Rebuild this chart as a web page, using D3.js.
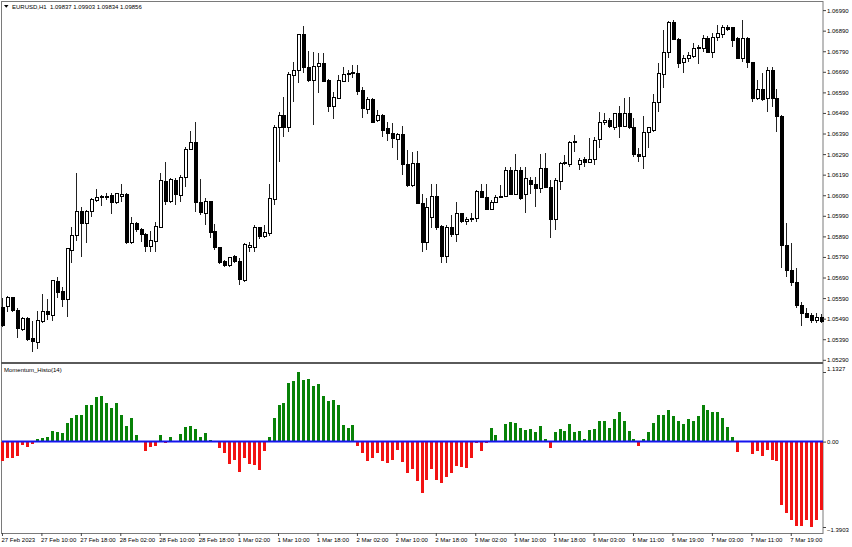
<!DOCTYPE html>
<html>
<head>
<meta charset="utf-8">
<script src="https://cdn.jsdelivr.net/npm/d3@7"></script>
<style>
  body { margin: 0; background: #fff; }
  svg { display: block; }
  text { font-family: "Liberation Sans", Arial, sans-serif; font-size: 6px; fill: #000; }
</style>
</head>
<body>
<svg id="chart" width="852" height="547"></svg>
<script>
// EURUSD H1 candles
var opens = [1.05543,1.05548,1.05591,1.05528,1.05436,1.05489,1.05392,1.05373,1.05475,1.05523,1.05504,1.05669,1.05620,1.05582,1.05820,1.05893,1.06009,1.05951,1.06009,1.06063,
  1.06077,1.06082,1.06087,1.06053,1.06082,1.06092,1.05859,1.05951,1.05922,1.05898,1.05839,1.05864,1.05932,1.06155,1.06058,1.06160,1.06087,1.06175,1.06311,1.06345,
  1.06053,1.06000,1.06058,1.05912,1.05834,1.05766,1.05747,1.05791,1.05766,1.05674,1.05834,1.05834,1.05932,1.05888,1.05902,1.06068,1.06417,1.06480,1.06417,1.06674,
  1.06694,1.06869,1.06713,1.06650,1.06718,1.06732,1.06650,1.06519,1.06562,1.06645,1.06679,1.06684,1.06684,1.06601,1.06509,1.06557,1.06455,1.06480,1.06412,1.06392,
  1.06363,1.06383,1.06237,1.06135,1.06246,1.06052,1.05858,1.05984,1.06086,1.05940,1.05790,1.05931,1.05897,1.05999,1.05960,1.05974,1.05979,1.06106,1.06081,1.06023,
  1.06057,1.06081,1.06086,1.06208,1.06096,1.06208,1.06096,1.06164,1.06144,1.06125,1.06222,1.06130,1.05974,1.06159,1.06242,1.06237,1.06348,1.06237,1.06266,1.06251,
  1.06266,1.06363,1.06446,1.06455,1.06421,1.06485,1.06426,1.06485,1.06417,1.06290,1.06276,1.06397,1.06407,1.06543,1.06679,1.06786,1.06932,1.06849,1.06737,1.06757,
  1.06766,1.06805,1.06805,1.06854,1.06786,1.06859,1.06873,1.06903,1.06903,1.06854,1.06757,1.06854,1.06737,1.06562,1.06606,1.06562,1.06694,1.06562,1.06475,1.05848,
  1.05726,1.05668,1.05556,1.05513,1.05503,1.05483,1.05498];
var highs = [1.05591,1.05601,1.05596,1.05543,1.05499,1.05499,1.05480,1.05528,1.05611,1.05586,1.05679,1.05693,1.05645,1.05834,1.05936,1.06199,1.06034,1.06019,1.06077,1.06121,
  1.06092,1.06102,1.06102,1.06102,1.06145,1.06102,1.05985,1.05961,1.05932,1.05907,1.05917,1.05961,1.06199,1.06252,1.06175,1.06175,1.06189,1.06325,1.06403,1.06447,
  1.06170,1.06077,1.06063,1.05951,1.05839,1.05776,1.05791,1.05800,1.05786,1.05859,1.05864,1.05946,1.05936,1.05946,1.06145,1.06432,1.06494,1.06567,1.06689,1.06737,
  1.06873,1.06912,1.06791,1.06786,1.06781,1.06781,1.06655,1.06592,1.06674,1.06713,1.06698,1.06723,1.06723,1.06616,1.06567,1.06562,1.06504,1.06485,1.06446,1.06441,
  1.06392,1.06426,1.06310,1.06300,1.06305,1.06096,1.06076,1.06144,1.06144,1.05945,1.05945,1.05994,1.06057,1.06003,1.05984,1.06003,1.06115,1.06144,1.06144,1.06067,
  1.06091,1.06140,1.06227,1.06227,1.06290,1.06227,1.06227,1.06178,1.06178,1.06290,1.06295,1.06164,1.06173,1.06251,1.06285,1.06353,1.06383,1.06271,1.06276,1.06368,
  1.06373,1.06494,1.06489,1.06465,1.06489,1.06523,1.06562,1.06567,1.06465,1.06319,1.06475,1.06421,1.06582,1.06732,1.06893,1.06937,1.06941,1.06854,1.06771,1.06786,
  1.06830,1.06820,1.06869,1.06864,1.06878,1.06917,1.06917,1.06917,1.06905,1.06859,1.06941,1.06859,1.06739,1.06650,1.06684,1.06713,1.06713,1.06606,1.06480,1.05955,
  1.05858,1.05736,1.05571,1.05542,1.05517,1.05517,1.05513];
var lows = [1.05450,1.05523,1.05523,1.05397,1.05431,1.05382,1.05329,1.05343,1.05470,1.05484,1.05480,1.05591,1.05548,1.05499,1.05761,1.05868,1.05791,1.05859,1.05985,1.06058,
  1.06038,1.06068,1.06000,1.06048,1.06058,1.05854,1.05854,1.05912,1.05864,1.05815,1.05815,1.05815,1.05930,1.06043,1.06053,1.06043,1.06058,1.06131,1.06308,1.06009,
  1.05995,1.05946,1.05883,1.05825,1.05757,1.05742,1.05742,1.05761,1.05655,1.05669,1.05815,1.05815,1.05878,1.05883,1.05893,1.06043,1.06251,1.06373,1.06397,1.06543,
  1.06635,1.06684,1.06640,1.06431,1.06587,1.06640,1.06494,1.06460,1.06560,1.06640,1.06640,1.06660,1.06577,1.06465,1.06485,1.06441,1.06446,1.06373,1.06353,1.06319,
  1.06261,1.06188,1.06130,1.06130,1.06050,1.05814,1.05824,1.05931,1.05921,1.05760,1.05760,1.05887,1.05863,1.05955,1.05945,1.05958,1.05958,1.06076,1.06018,1.06018,
  1.06052,1.06079,1.06079,1.06091,1.06091,1.06067,1.06003,1.06096,1.06033,1.06101,1.06125,1.05882,1.05921,1.06115,1.06237,1.06227,1.06300,1.06212,1.06227,1.06246,
  1.06237,1.06319,1.06431,1.06417,1.06407,1.06368,1.06421,1.06412,1.06276,1.06251,1.06217,1.06319,1.06397,1.06494,1.06611,1.06757,1.06844,1.06708,1.06684,1.06737,
  1.06757,1.06728,1.06786,1.06781,1.06757,1.06839,1.06854,1.06888,1.06810,1.06755,1.06737,1.06708,1.06543,1.06553,1.06548,1.06494,1.06519,1.06397,1.05736,1.05692,
  1.05649,1.05542,1.05454,1.05493,1.05469,1.05469,1.05469];
var closes = [1.05455,1.05591,1.05528,1.05441,1.05489,1.05387,1.05377,1.05480,1.05523,1.05509,1.05674,1.05616,1.05582,1.05829,1.05893,1.06009,1.05951,1.06009,1.06068,1.06077,
  1.06082,1.06083,1.06053,1.06097,1.06092,1.05859,1.05951,1.05922,1.05898,1.05839,1.05868,1.05936,1.06160,1.06058,1.06165,1.06092,1.06175,1.06311,1.06345,1.06053,
  1.06004,1.06058,1.05907,1.05834,1.05761,1.05747,1.05786,1.05766,1.05679,1.05849,1.05844,1.05932,1.05888,1.05907,1.06072,1.06418,1.06480,1.06421,1.06679,1.06694,
  1.06869,1.06713,1.06650,1.06718,1.06732,1.06645,1.06519,1.06567,1.06650,1.06679,1.06684,1.06685,1.06596,1.06514,1.06557,1.06446,1.06480,1.06407,1.06392,1.06368,
  1.06383,1.06237,1.06135,1.06246,1.06052,1.05858,1.06028,1.06086,1.05935,1.05790,1.05935,1.05897,1.05999,1.05960,1.05974,1.05979,1.06106,1.06081,1.06023,1.06057,
  1.06081,1.06086,1.06212,1.06096,1.06212,1.06072,1.06169,1.06144,1.06125,1.06222,1.06130,1.05974,1.06164,1.06246,1.06251,1.06348,1.06349,1.06261,1.06251,1.06266,
  1.06358,1.06446,1.06451,1.06426,1.06485,1.06426,1.06485,1.06417,1.06290,1.06276,1.06397,1.06417,1.06543,1.06684,1.06786,1.06932,1.06849,1.06732,1.06757,1.06771,
  1.06805,1.06810,1.06854,1.06786,1.06859,1.06878,1.06907,1.06898,1.06844,1.06757,1.06854,1.06737,1.06562,1.06606,1.06557,1.06694,1.06562,1.06475,1.05848,1.05722,
  1.05668,1.05556,1.05513,1.05498,1.05479,1.05498,1.05474];

// Momentum_Histo(14) values
var momentum = [-0.31,-0.27,-0.27,-0.23,-0.05,-0.08,-0.04,0.04,0.06,0.07,0.18,0.16,0.14,0.31,0.38,0.44,0.44,0.60,0.60,0.72,
  0.74,0.63,0.55,0.62,0.44,0.25,0.39,0.10,-0.01,-0.16,-0.08,-0.07,0.10,-0.02,0.08,0.01,0.13,0.23,0.26,0.21,
  0.07,0.14,0.02,-0.01,-0.10,-0.19,-0.37,-0.30,-0.50,-0.26,-0.36,-0.38,-0.46,-0.15,0.08,0.39,0.60,0.62,0.95,0.98,
  1.1327,1.00,1.02,0.91,0.93,0.74,0.66,0.68,0.60,0.27,0.22,0.27,-0.07,-0.19,-0.31,-0.26,-0.19,-0.31,-0.35,-0.30,
  -0.13,-0.34,-0.51,-0.44,-0.64,-0.83,-0.63,-0.44,-0.63,-0.68,-0.57,-0.51,-0.39,-0.41,-0.43,-0.26,-0.03,-0.16,-0.03,0.22,
  0.11,0.01,0.29,0.32,0.31,0.22,0.19,0.20,0.16,0.26,0.04,-0.10,0.15,0.20,0.17,0.28,0.15,0.17,0.05,0.19,
  0.21,0.33,0.34,0.22,0.37,0.48,0.33,0.18,0.05,-0.07,0.04,0.16,0.31,0.44,0.44,0.51,0.42,0.33,0.29,0.36,
  0.34,0.42,0.59,0.52,0.48,0.48,0.39,0.23,0.07,-0.17,-0.01,-0.01,-0.20,-0.16,-0.24,-0.13,-0.30,-0.32,-1.04,-1.17,
  -1.27,-1.38,-1.37,-1.28,-1.3903,-1.28,-1.11];

// time labels, one every 8 bars
var timeLabels = ["27 Feb 2023","27 Feb 10:00","27 Feb 18:00","28 Feb 02:00","28 Feb 10:00","28 Feb 18:00",
  "1 Mar 02:00","1 Mar 10:00","1 Mar 18:00","2 Mar 02:00","2 Mar 10:00","2 Mar 18:00","3 Mar 02:00",
  "3 Mar 10:00","3 Mar 18:00","6 Mar 03:00","6 Mar 11:00","6 Mar 19:00","7 Mar 03:00","7 Mar 11:00","7 Mar 19:00"];
var labelStep = 8;

var priceTicks = [1.05290,1.05390,1.05490,1.05590,1.05690,1.05790,1.05890,1.05990,1.06090,
  1.06190,1.06290,1.06390,1.06490,1.06590,1.06690,1.06790,1.06890,1.06990];

var header = "EURUSD,H1  1.09837 1.09903 1.09834 1.09856";
var indicatorName = "Momentum_Histo(14)";

var n = closes.length;
var right = 823;               // price scale line
var mainBottom = 362, subBottom = 533;

var svg = d3.select("#chart");

//scales
var x = d3.scaleBand().domain(d3.range(n)).range([0, right + 0.3]);
var cx = function(i) { return Math.round(x(i) + x.bandwidth() / 2); };
var y = d3.scaleLinear().domain(d3.extent(priceTicks)).range([359.8, 10.1]);
var ym = d3.scaleLinear().domain(d3.extent(momentum)).range([527, 372]);

//frame
svg.append("rect")
  .attr("x", 1.5).attr("y", 1.5)
  .attr("width", right - 1.5).attr("height", subBottom - 1)
  .attr("fill", "none").attr("stroke", "#7a7a7a");
svg.append("line")
  .attr("x1", 1).attr("x2", right)
  .attr("y1", mainBottom + 1).attr("y2", mainBottom + 1)
  .attr("stroke", "#5a5a5a").attr("stroke-width", 2);

//candles
var candles = svg.append("g")
  .attr("shape-rendering", "crispEdges")
  .selectAll("g")
  .data(d3.range(n))
  .join("g");

candles.append("line")
  .attr("x1", function(i) { return cx(i) + 0.5; })
  .attr("x2", function(i) { return cx(i) + 0.5; })
  .attr("y1", function(i) { return y(highs[i]); })
  .attr("y2", function(i) { return y(lows[i]); })
  .attr("stroke", "#222");

candles.append("rect")
  .attr("x", function(i) { return cx(i) - 1; })
  .attr("width", 3)
  .attr("y", function(i) { return y(Math.max(opens[i], closes[i])); })
  .attr("height", function(i) { return Math.max(0.6, Math.abs(y(opens[i]) - y(closes[i]))); })
  .attr("fill", function(i) { return closes[i] >= opens[i] ? "#fff" : "#000"; })
  .attr("stroke", "#000");

//momentum histogram
svg.append("g")
  .attr("shape-rendering", "crispEdges")
  .selectAll("rect")
  .data(momentum)
  .join("rect")
  .attr("x", function(d, i) { return cx(i) - 1; })
  .attr("width", 3)
  .attr("y", function(d) { return Math.min(ym(0), ym(d)); })
  .attr("height", function(d) { return Math.max(0.5, Math.abs(ym(d) - ym(0))); })
  .attr("fill", function(d) { return d >= 0 ? "#078207" : "#f21212"; });

svg.append("line")
  .attr("x1", 2).attr("x2", right)
  .attr("y1", ym(0)).attr("y2", ym(0))
  .attr("stroke", "#1414f0").attr("stroke-width", 2);

//price axis
var priceAxis = svg.append("g")
  .attr("transform", "translate(" + right + ",0)")
  .call(d3.axisRight(y).tickValues(priceTicks).tickFormat(d3.format(".5f")).tickSize(3).tickPadding(1));
priceAxis.select(".domain").remove();
priceAxis.selectAll("line").attr("stroke", "#444");
priceAxis.selectAll("text").attr("font-size", null).attr("font-family", null);

//momentum axis
var ext = d3.extent(momentum);
var momAxis = svg.append("g")
  .attr("transform", "translate(" + right + ",0)")
  .call(d3.axisRight(ym).tickValues([ext[1], 0, ext[0]])
    .tickFormat(function(d) { return d === 0 ? "0.00" : d3.format(".4f")(d); })
    .tickSize(3).tickPadding(1));
momAxis.select(".domain").remove();
momAxis.selectAll("line").attr("stroke", "#444");
momAxis.selectAll("text")
  .attr("font-size", null).attr("font-family", null)
  .attr("y", function(d) { return d > 0 ? -3.5 : d < 0 ? 3 : 0; });

//time axis
var timeAxis = svg.append("g")
  .attr("transform", "translate(0," + subBottom + ")")
  .call(d3.axisBottom(x).tickValues(d3.range(0, n, labelStep))
    .tickFormat(function(d, k) { return timeLabels[k]; })
    .tickSize(3).tickPadding(1.5));
timeAxis.select(".domain").remove();
timeAxis.selectAll("line").attr("stroke", "#444");
timeAxis.selectAll("text")
  .attr("font-size", null).attr("font-family", null)
  .attr("text-anchor", "start").attr("x", -1);

//titles
svg.append("path")
  .attr("d", "M4,5 L8.5,5 L6.25,7.8 Z")
  .attr("fill", "#000");
svg.append("text")
  .attr("x", 12).attr("y", 8.5)
  .style("white-space", "pre")
  .text(header);
svg.append("text")
  .attr("x", 4).attr("y", 372)
  .text(indicatorName);
</script>
</body>
</html>
